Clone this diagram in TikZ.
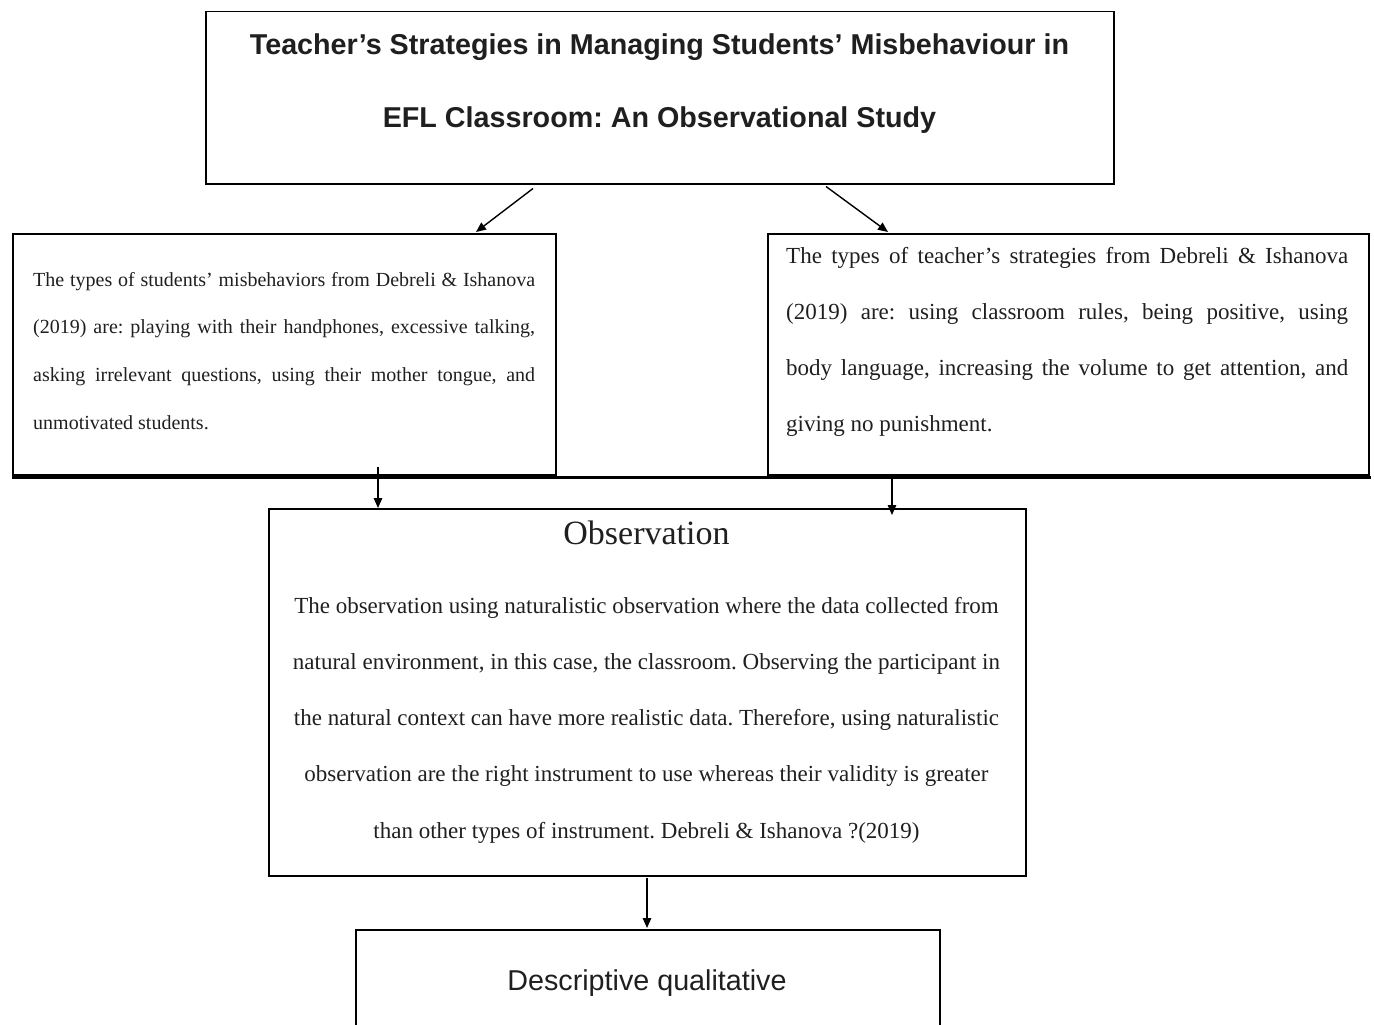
\documentclass[tikz,border=0pt]{standalone}
\usepackage{fontspec}
\setmainfont{Liberation Serif}
\newfontfamily\headfont{Liberation Sans}
\usetikzlibrary{arrows.meta}
\frenchspacing

\begin{document}
\begin{tikzpicture}[x=1pt,y=-1pt,
  box/.style={draw, line width=1.5pt, inner sep=0pt, anchor=north west},
  txt/.style={inner sep=0pt, text=black!88},
  arr/.style={line width=1.4pt, -{Triangle[length=10pt,width=8.5pt]}}]
\clip (0,0) rectangle (1374,1025);
\useasboundingbox (0,0) rectangle (1374,1025);

% frames
\node[box, minimum width=908pt, minimum height=172pt] (title) at (205,11) {};
\node[box, minimum width=543pt, minimum height=241pt] (left) at (12,233) {};
\node[box, minimum width=601pt, minimum height=241pt] (right) at (767,233) {};
\node[box, minimum width=757pt, minimum height=367pt] (obs) at (268,508) {};
\node[box, minimum width=584pt, minimum height=140pt] (desc) at (355,929) {};

% heavy rule under the two middle boxes
\draw[line width=2.2pt] ([yshift=-2pt]left.south west) -- ([xshift=1pt,yshift=-2pt]right.south east);

% title
\node[txt, anchor=base] (ttl) at (659.5,55) {\parbox[t]{900pt}{\centering
  \headfont\bfseries\fontsize{28.7}{73}\selectfont
  Teacher’s Strategies in Managing Students’ Misbehaviour in\\
  EFL Classroom: An Observational Study}};

% left box text
\node[txt, anchor=base west] (ltxt) at (33,286) {\parbox[t]{502pt}{\fontsize{20}{47.7}\selectfont
  \makebox[\linewidth][s]{The types of students’ misbehaviors from Debreli \& Ishanova}\\
  \makebox[\linewidth][s]{(2019) are: playing with their handphones, excessive talking,}\\
  \makebox[\linewidth][s]{asking irrelevant questions, using their mother tongue, and}\\
  unmotivated students.}};

% right box text
\node[txt, anchor=base west] (rtxt) at (786,263) {\parbox[t]{562pt}{\fontsize{23}{56.3}\selectfont
  \makebox[\linewidth][s]{The types of teacher’s strategies from Debreli \& Ishanova}\\
  \makebox[\linewidth][s]{(2019) are: using classroom rules, being positive, using}\\
  \makebox[\linewidth][s]{body language, increasing the volume to get attention, and}\\
  giving no punishment.}};

% observation box text
\node[txt, anchor=base, font=\fontsize{34}{40}\selectfont] (obshead) at (646.5,544) {Observation};
\node[txt, anchor=base] (obstxt) at (646.5,613) {\parbox[t]{750pt}{\centering\fontsize{23}{56.25}\selectfont
  The observation using naturalistic observation where the data collected from\\
  natural environment, in this case, the classroom. Observing the participant in\\
  the natural context can have more realistic data. Therefore, using naturalistic\\
  observation are the right instrument to use whereas their validity is greater\\
  than other types of instrument. Debreli \& Ishanova ?(2019)}};

% bottom box text
\node[txt, anchor=base, font=\headfont\fontsize{28.7}{34}\selectfont] (desctxt) at (647,990) {Descriptive qualitative};

% connectors
\draw[arr] ([shift={(328,4)}]title.south west) -- ([shift={(464,-1)}]left.north west);
\draw[arr] ([shift={(621,2)}]title.south west) -- ([shift={(121,-1)}]right.north west);
\draw[arr] ([shift={(366,-9)}]left.south west) -- ([shift={(110,0)}]obs.north west);
\draw[arr] ([shift={(125,2)}]right.south west) -- ([shift={(624,7)}]obs.north west);
\draw[arr] ([shift={(379,1)}]obs.south west) -- ([shift={(292,-1)}]desc.north west);
\end{tikzpicture}
\end{document}
